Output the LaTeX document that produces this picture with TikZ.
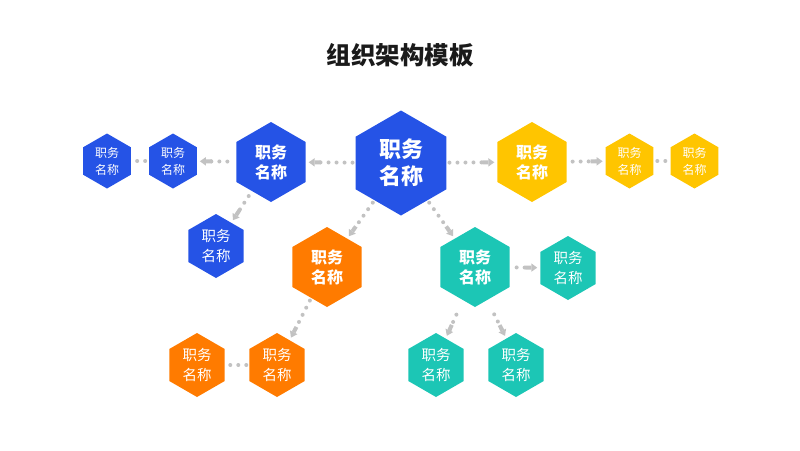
\documentclass[tikz,border=0pt]{standalone}
\usepackage{fontspec}
\setmainfont{Noto Sans CJK SC}
\usepackage{tikz}
\usetikzlibrary{shapes.geometric, arrows.meta}
\definecolor{hexblue}{HTML}{2553E6}
\definecolor{hexorange}{HTML}{FF7B00}
\definecolor{hexteal}{HTML}{1CC6B5}
\definecolor{hexyellow}{HTML}{FFC500}
\definecolor{linkgray}{HTML}{C2C2C2}
\definecolor{titlegray}{HTML}{1A1A1A}

\begin{document}
\begin{tikzpicture}[x=1pt, y=-1pt,
    hexbase/.style={regular polygon, regular polygon sides=6, shape border rotate=30,
      inner sep=0pt, outer sep=0pt, text=white, align=center},
    bighex/.style={hexbase, minimum size=105pt, font=\bfseries\fontsize{22}{27}\selectfont},
    midhex/.style={hexbase, minimum size=80pt, font=\bfseries\fontsize{16}{20}\selectfont},
    kidhex/.style={hexbase, minimum size=64pt, font=\fontsize{14.5}{20}\selectfont},
    tinyhex/.style={hexbase, minimum size=55pt, font=\fontsize{12}{17}\selectfont},
    link/.style={linkgray, line width=4pt, line cap=round, dash pattern=on 0pt off 8pt,
      -{Rectangle[length=6pt,width=4pt]Triangle[length=6pt,width=8pt]},
      shorten <=3pt, shorten >=3pt},
    dotlink/.style={linkgray, line width=4pt, line cap=round, dash pattern=on 0pt off 8pt,
      shorten <=4pt, shorten >=4pt}]
      \useasboundingbox (0,0) rectangle (800,450);

      % Title
      \node[font=\bfseries\fontsize{24.5}{28}\selectfont, text=titlegray] (title) at (400,55) {组织架构模板};

      % Draw centre hexagon
      \node[bighex, fill=hexblue] (c) at (401,163) {职务\\名称};

      % Draw blue branch
      \node[midhex, fill=hexblue] (b1) at (271,162) {职务\\名称};
      \node[tinyhex, fill=hexblue] (b2) at (173,161) {职务\\名称};
      \node[tinyhex, fill=hexblue] (b3) at (107,161) {职务\\名称};
      \node[kidhex, fill=hexblue] (b4) at (216,246) {职务\\名称};

      % Draw yellow branch
      \node[midhex, fill=hexyellow] (y1) at (532,162) {职务\\名称};
      \node[tinyhex, fill=hexyellow] (y2) at (629.5,161) {职务\\名称};
      \node[tinyhex, fill=hexyellow] (y3) at (694.5,161) {职务\\名称};

      % Draw orange branch
      \node[midhex, fill=hexorange] (o1) at (327,267) {职务\\名称};
      \node[kidhex, fill=hexorange] (o2) at (277,365) {职务\\名称};
      \node[kidhex, fill=hexorange] (o3) at (197,365) {职务\\名称};

      % Draw teal branch
      \node[midhex, fill=hexteal] (t1) at (475,267) {职务\\名称};
      \node[kidhex, fill=hexteal] (t2) at (568,268) {职务\\名称};
      \node[kidhex, fill=hexteal] (t3) at (436,365) {职务\\名称};
      \node[kidhex, fill=hexteal] (t4) at (516,365) {职务\\名称};

      % Draw dotted links
      \draw[link] (c) -- (b1);
      \draw[link, shorten <=9pt] (b1) -- (b2);
      \draw[dotlink] (b2) -- (b3);
      \draw[link, shorten <=6pt] (b1) -- (b4);
      \draw[link] (c) -- (y1);
      \draw[link, shorten <=6pt] (y1) -- (y2);
      \draw[dotlink] (y2) -- (y3);
      \draw[link] (c) -- (o1);
      \draw[link] (o1) -- (o2);
      \draw[dotlink, shorten <=3pt, shorten >=3pt] (o2) -- (o3);
      \draw[link] (c) -- (t1);
      \draw[link, shorten <=7pt] (t1) -- (t2);
      \draw[link, shorten <=16pt] (t1.250) -- (t3.70);
      \draw[link, shorten <=16pt] (t1.290) -- (t4.110);
    \end{tikzpicture}
\end{document}
